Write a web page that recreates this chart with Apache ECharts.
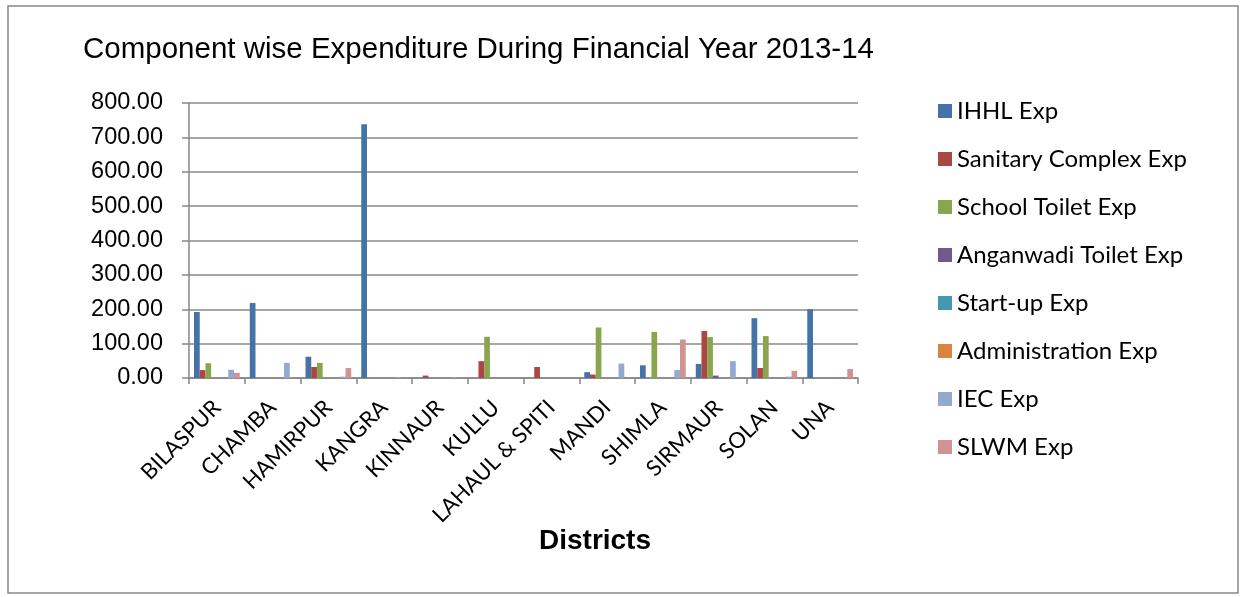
<!DOCTYPE html>
<html>
<head>
<meta charset="utf-8">
<script src="https://cdn.jsdelivr.net/npm/echarts@6/dist/echarts.min.js"></script>
<style>
html,body{margin:0;padding:0;background:#fff;}
#chart{width:1243px;height:597px;}
</style>
</head>
<body>
<div id="chart"></div>
<script>
const districts = ['BILASPUR','CHAMBA','HAMIRPUR','KANGRA','KINNAUR','KULLU','LAHAUL & SPITI','MANDI','SHIMLA','SIRMAUR','SOLAN','UNA'];
const seriesNames = ['IHHL Exp','Sanitary Complex Exp','School Toilet Exp','Anganwadi Toilet Exp','Start-up Exp','Administration Exp','IEC Exp','SLWM Exp'];
const ihhlExp       = [192, 218, 62, 738, 0, 0, 0, 17, 37, 41, 174, 200];
const sanitaryExp   = [23, 0, 32, 0, 7, 49, 32, 10, 0, 137, 29, 0];
const schoolExp     = [43, 0, 44, 0, 0, 120, 0, 147, 134, 119, 122, 0];
const anganwadiExp  = [0, 0, 0, 0, 0, 0, 0, 0, 0, 7, 0, 0];
const startupExp    = [0, 0, 0, 0, 0, 0, 0, 0, 0, 0, 0, 0];
const adminExp      = [0, 0, 0, 0, 0, 0, 0, 0, 0, 2, 0, 0];
const iecExp        = [24, 44, 4, 3, 2, 0, 0, 42, 23, 49, 4, 0];
const slwmExp       = [15, 0, 29, 0, 0, 0, 0, 0, 112, 0, 21, 26];
const colors = ['#4572A7','#AA4643','#89A54E','#71588F','#4198AF','#DB843D','#93A9CF','#D19392'];
const allData = [ihhlExp, sanitaryExp, schoolExp, anganwadiExp, startupExp, adminExp, iecExp, slwmExp];

const chart = echarts.init(document.getElementById('chart'));
chart.setOption({
  animation: false,
  color: colors,
  title: {
    text: 'Component wise Expenditure During Financial Year 2013-14',
    left: 78, top: 30,
    textStyle: {fontFamily: 'Liberation Sans, Arial', fontSize: 29.5, fontWeight: 'normal', color: '#000'}
  },
  graphic: [{
    type: 'rect', shape: {x: 8, y: 6, width: 1230, height: 587},
    style: {fill: 'none', stroke: '#888', lineWidth: 1.5}, silent: true, z: -1
  }, {
    type: 'text', x: 595, y: 541,
    style: {text: 'Districts', align: 'center', verticalAlign: 'middle',
      font: 'bold 28px "Liberation Sans", Arial', fill: '#000'}
  }],
  legend: {
    orient: 'vertical', left: 933, top: 94,
    itemWidth: 14, itemHeight: 14, itemGap: 24, icon: 'rect',
    textStyle: {fontFamily: 'Lato, Open Sans, sans-serif', fontSize: 24, color: '#000'},
    data: seriesNames
  },
  grid: {left: 189, right: 385, top: 103, bottom: 219, containLabel: false},
  xAxis: {
    type: 'category', data: districts,
    axisLine: {lineStyle: {color: '#878787', width: 1.5}},
    axisTick: {show: true, length: 6, lineStyle: {color: '#878787', width: 1.5}},
    axisLabel: {rotate: 45, interval: 0, margin: 26, fontFamily: 'Lato, Open Sans, sans-serif', fontSize: 22, color: '#000'}
  },
  yAxis: {
    type: 'value', min: 0, max: 800, interval: 100,
    axisLine: {show: true, lineStyle: {color: '#878787', width: 1.5}},
    axisTick: {show: true, length: 7, lineStyle: {color: '#878787', width: 1.5}},
    splitLine: {lineStyle: {color: '#8a8a8a', width: 1.5}},
    axisLabel: {formatter: v => v.toFixed(2), margin: 26, fontFamily: 'Liberation Sans, Arial', fontSize: 23.5, color: '#000'}
  },
  series: seriesNames.map((n, i) => ({
    name: n, type: 'bar', data: allData[i],
    barGap: '0%', barCategoryGap: '18%',
    itemStyle: {color: colors[i]}
  }))
});
</script>
</body>
</html>
